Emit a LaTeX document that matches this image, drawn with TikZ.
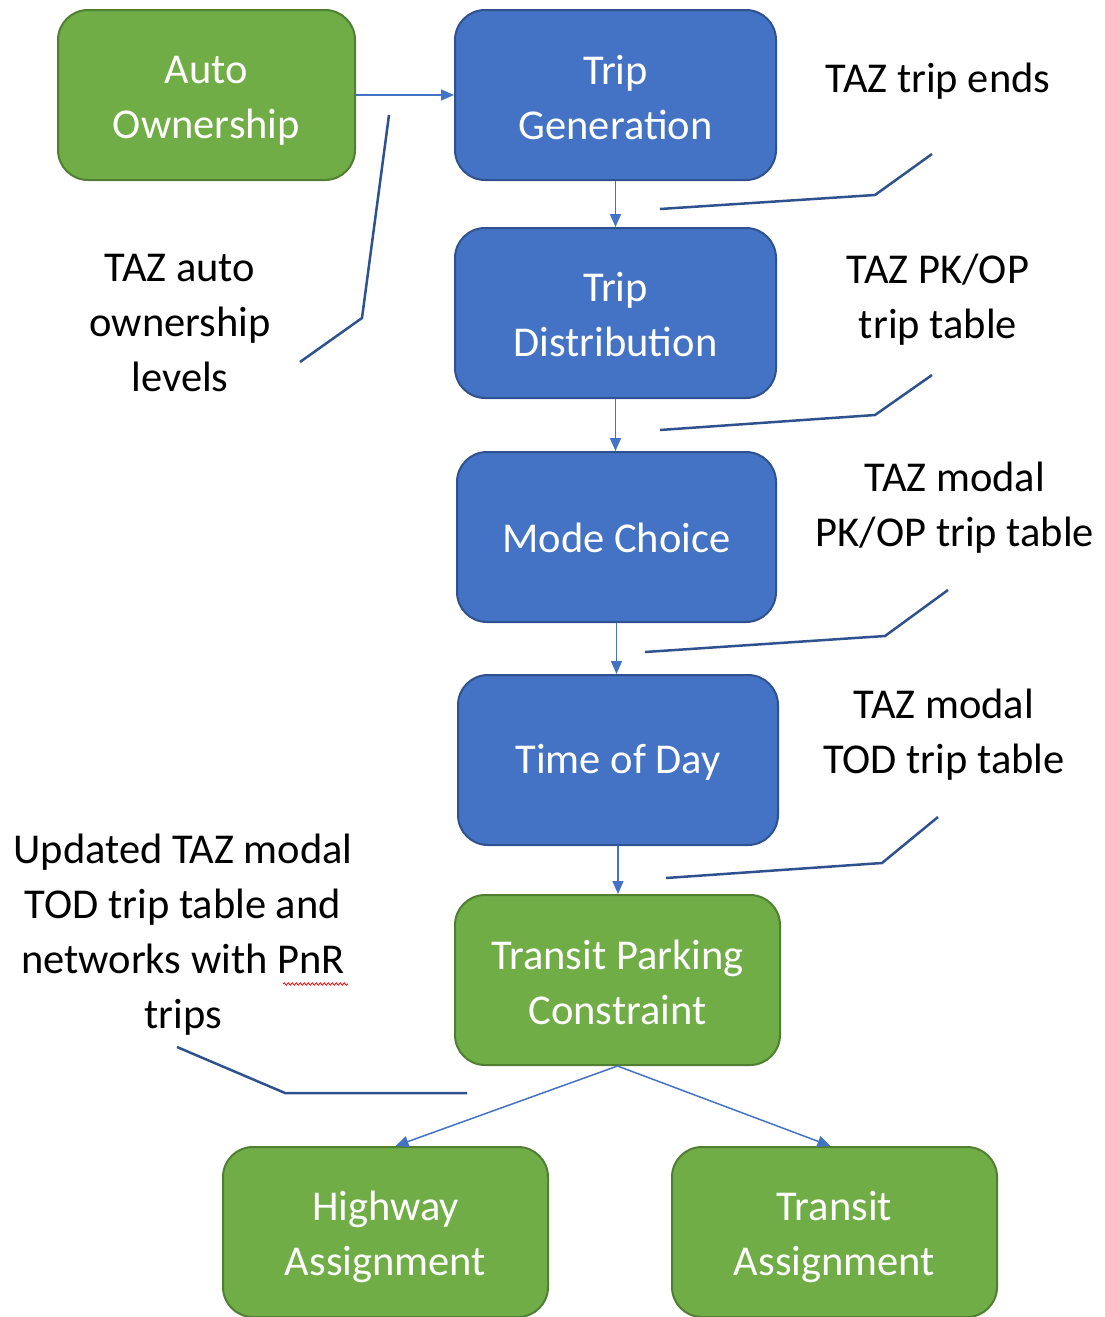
\documentclass[tikz,border=0pt]{standalone}
\usepackage{fontspec}
\setmainfont{Carlito}
\usetikzlibrary{arrows.meta,decorations.pathmorphing,calc}
\definecolor{gfill}{HTML}{70AD47}
\definecolor{gdraw}{HTML}{507E32}
\definecolor{bfill}{HTML}{4472C4}
\definecolor{bdraw}{HTML}{2F528F}
\definecolor{arr}{HTML}{4472C4}
\definecolor{callc}{HTML}{2F528F}
\tikzset{
  boxbase/.style={rectangle, rounded corners=30pt, line width=2pt, minimum height=170pt, inner sep=0pt},
  greenbox/.style={boxbase, fill=gfill, draw=gdraw},
  bluebox/.style={boxbase, fill=bfill, draw=bdraw},
  boxtxt/.style={align=center, text=white, inner sep=0pt, font=\fontsize{42.5}{55}\selectfont},
  flow/.style={draw=arr, line width=1.5pt, -{Triangle[length=13pt,width=11pt]}},
  callout/.style={draw=callc, line width=2.5pt},
  lbl/.style={align=center, text=black, inner sep=0pt, font=\fontsize{42.5}{55}\selectfont},
}
\begin{document}
\begin{tikzpicture}[x=1pt,y=-1pt]
\useasboundingbox (0,0) rectangle (1105,1317);
% boxes
\node[greenbox, minimum width=297pt] (auto) at (206.5,95) {};
\node[bluebox, minimum width=321pt] (gen) at (615.5,95) {};
\node[bluebox, minimum width=321pt] (dist) at (615.5,313) {};
\node[bluebox, minimum width=319pt] (mode) at (616.5,537) {};
\node[bluebox, minimum width=320pt] (tod) at (618,760) {};
\node[greenbox, minimum width=325pt] (tpc) at (617.5,980) {};
\node[greenbox, minimum width=325pt] (hwy) at (385.5,1232) {};
\node[greenbox, minimum width=325pt] (trn) at (834.5,1232) {};
% box texts
\node[boxtxt] (tauto) at ([yshift=-6pt]auto.center) {Auto\\Ownership};
\node[boxtxt] (tgen) at ([yshift=-2.5pt]gen.center) {Trip\\Generation};
\node[boxtxt] (tdist) at ([yshift=-2pt]dist.center) {Trip\\Distribution};
\node[boxtxt] (tmode) at ([yshift=-1pt]mode.center) {Mode Choice};
\node[boxtxt] (ttod) at ([yshift=-2pt]tod.center) {Time of Day};
\node[boxtxt] (ttpc) at ([yshift=-2pt]tpc.center) {Transit Parking\\Constraint};
\node[boxtxt] (thwy) at ([yshift=-5pt]hwy.center) {Highway\\Assignment};
\node[boxtxt] (ttrn) at ([yshift=-5pt]trn.center) {Transit\\Assignment};
% flow arrows
\draw[flow] (auto.east) -- (gen.west);
\draw[flow] (gen.south) -- (dist.north);
\draw[flow] (dist.south) -- (dist.south |- mode.north);
\draw[flow] (mode.south) -- (mode.south |- tod.north);
\draw[flow] (tod.south) -- (tod.south |- tpc.north);
\draw[flow] (tpc.south) -- ($(hwy.north)+(10,0)$);
\draw[flow] (tpc.south) -- ($(trn.north)+(-4,0)$);
% labels
\node[lbl] (l1) at (938,81) {TAZ trip ends};
\node[lbl] (l2) at (938,300) {TAZ PK/OP\\trip table};
\node[lbl] (l3) at (955,508) {TAZ modal\\PK/OP trip table};
\node[lbl] (l4) at (944,735) {TAZ modal\\TOD trip table};
\node[lbl] (l5) at (180,323) {TAZ auto\\ownership\\levels};
\node[lbl] (l6) at (183,935) {Updated TAZ modal\\TOD trip table and\\networks with PnR\\trips};
% spell-check underline under PnR
\draw[red, line width=0.8pt, decorate, decoration={snake, amplitude=1.2pt, segment length=4pt}] (283,984) -- (348,984);
% callout lines
\coordinate (c1a) at (660,209); \coordinate (c1b) at (875,195); \coordinate (c1c) at (932,154);
\coordinate (c2a) at (660,430); \coordinate (c2b) at (875,415); \coordinate (c2c) at (932,375);
\coordinate (c3a) at (645,652); \coordinate (c3b) at (885,636); \coordinate (c3c) at (948,590);
\coordinate (c4a) at (666,878); \coordinate (c4b) at (882,863); \coordinate (c4c) at (938,817);
\coordinate (c5a) at (389,115); \coordinate (c5b) at (362,318); \coordinate (c5c) at (300,362);
\coordinate (c6a) at (177,1047); \coordinate (c6b) at (285,1093); \coordinate (c6c) at (467,1093);
\draw[callout] (c1a) -- (c1b) -- (c1c);
\draw[callout] (c2a) -- (c2b) -- (c2c);
\draw[callout] (c3a) -- (c3b) -- (c3c);
\draw[callout] (c4a) -- (c4b) -- (c4c);
\draw[callout] (c5a) -- (c5b) -- (c5c);
\draw[callout] (c6a) -- (c6b) -- (c6c);
\end{tikzpicture}
\end{document}
